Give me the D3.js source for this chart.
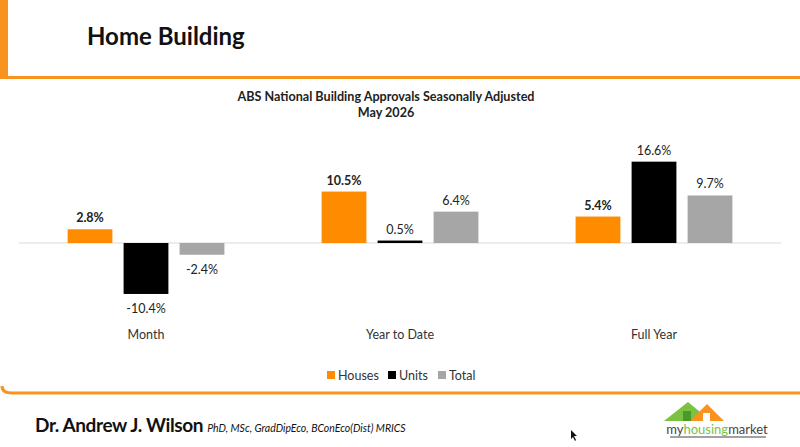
<!DOCTYPE html>
<html>
<head>
<meta charset="utf-8">
<script src="https://cdn.jsdelivr.net/npm/d3@7"></script>
<style>
  body { margin: 0; background: #fff; }
  svg { display: block; font-family: "Lato", "Open Sans", sans-serif; }
</style>
</head>
<body>
<div id="chart"></div>
<script>
// data
const categories = ["Month", "Year to Date", "Full Year"];
const seriesNames = ["Houses", "Units", "Total"];
const houses = [2.8, 10.5, 5.4];
const units = [-10.4, 0.5, 16.6];
const total = [-2.4, 6.4, 9.7];
const chartTitle = ["ABS National Building Approvals Seasonally Adjusted", "May 2026"];

const width = 800, height = 447;
const orange = "#f7931e";
const colors = {Houses: "#ff8c00", Units: "#000000", Total: "#a6a6a6"};

const svg = d3.select("#chart").append("svg")
  .attr("width", width).attr("height", height);

// slide frame
svg.append("rect").attr("x", 0).attr("y", 0).attr("width", 8).attr("height", 78).attr("fill", orange);
svg.append("rect").attr("x", 0).attr("y", 76).attr("width", width).attr("height", 3).attr("fill", orange);
svg.append("text").attr("x", 87).attr("y", 45)
  .attr("font-size", 24).attr("font-weight", "bold").attr("fill", "#111")
  .text("Home Building");

// chart title
svg.selectAll(".ctitle").data(chartTitle).enter().append("text")
  .attr("class", "ctitle")
  .attr("x", 386).attr("y", (d, i) => 101 + i * 16)
  .attr("text-anchor", "middle").attr("font-size", 12.6).attr("font-weight", "bold").attr("fill", "#222")
  .text(d => d);

// scales
let x0 = d3.scaleBand().domain(categories).range([19, 781]);
let x1 = d3.scaleBand().domain(seriesNames)
  .range([(x0.bandwidth() - 168) / 2, (x0.bandwidth() + 168) / 2])
  .paddingInner(0.2).paddingOuter(0.1);
let y = d3.scaleLinear().domain([-14, 19]).range([243 + 14 * 4.9, 243 - 19 * 4.9]);

const rows = categories.map((c, i) => ({
  cat: c,
  vals: [
    {key: "Houses", v: houses[i]},
    {key: "Units", v: units[i]},
    {key: "Total", v: total[i]}
  ]
}));

// zero line
svg.append("line").attr("x1", 19).attr("x2", 781)
  .attr("y1", y(0)).attr("y2", y(0))
  .attr("stroke", "#d9d9d9").attr("stroke-width", 1);

let groups = svg.selectAll(".grp").data(rows).enter().append("g")
  .attr("class", "grp")
  .attr("transform", d => "translate(" + x0(d.cat) + ",0)");

groups.selectAll("rect").data(d => d.vals).enter().append("rect")
  .attr("x", d => x1(d.key))
  .attr("width", x1.bandwidth())
  .attr("y", d => y(Math.max(0, d.v)))
  .attr("height", d => Math.abs(y(d.v) - y(0)))
  .attr("fill", d => colors[d.key]);

groups.selectAll(".lbl").data(d => d.vals).enter().append("text")
  .attr("class", "lbl")
  .attr("x", d => x1(d.key) + x1.bandwidth() / 2)
  .attr("y", d => d.v >= 0 ? y(d.v) - 7 : y(d.v) + 19)
  .attr("text-anchor", "middle").attr("font-size", 12.5)
  .attr("font-weight", d => d.key === "Houses" ? "bold" : "normal")
  .attr("fill", "#222")
  .text(d => d.v.toFixed(1) + "%");

// category labels
svg.selectAll(".cat").data(categories).enter().append("text")
  .attr("class", "cat")
  .attr("x", d => x0(d) + x0.bandwidth() / 2).attr("y", 339)
  .attr("text-anchor", "middle").attr("font-size", 12.5).attr("fill", "#333")
  .text(d => d);

// legend
const legendX = [327, 388, 438];
let lg = svg.selectAll(".leg").data(seriesNames).enter().append("g")
  .attr("class", "leg")
  .attr("transform", (d, i) => "translate(" + legendX[i] + ",371)");
lg.append("rect").attr("width", 8).attr("height", 8).attr("fill", d => colors[d]);
lg.append("text").attr("x", 11).attr("y", 8.5).attr("font-size", 12.5).attr("fill", "#333").text(d => d);

// footer
svg.append("path").attr("d", "M2,386 Q2,393 12,393 L800,393")
  .attr("fill", "none").attr("stroke", orange).attr("stroke-width", 3);
let ft = svg.append("text").attr("x", 35).attr("y", 432).attr("fill", "#111");
ft.append("tspan").attr("font-size", 19).attr("font-weight", "bold").attr("letter-spacing", -0.4).text("Dr. Andrew J. Wilson ");
ft.append("tspan").attr("font-size", 10.5).attr("font-style", "italic").text("PhD, MSc, GradDipEco, BConEco(Dist) MRICS");

// logo
let logo = svg.append("g");
logo.append("path").attr("d", "M664,421 L688,402 L706,417 L698,421 Z").attr("fill", "#7cc242");
logo.append("path").attr("d", "M690,421 L707,404 L724,421 Z").attr("fill", "#f7931e");
logo.append("rect").attr("x", 683).attr("y", 411).attr("width", 8).attr("height", 10).attr("fill", "#4a9a2a");
logo.append("rect").attr("x", 703).attr("y", 413).attr("width", 7).attr("height", 8).attr("fill", "#fff");
logo.append("text").attr("x", 717).attr("y", 434).attr("text-anchor", "middle")
  .attr("font-size", 13).attr("fill", "#444")
  .html('my<tspan fill="#7cc242">housing</tspan>market');
logo.append("line").attr("x1", 670).attr("x2", 766).attr("y1", 437).attr("y2", 437)
  .attr("stroke", "#444").attr("stroke-width", 1);

// mouse pointer
svg.append("path").attr("d", "M571,430 L571,439 L573,437 L575,441 L576,440 L574,436 L577,436 Z")
  .attr("fill", "#111");
</script>
</body>
</html>
